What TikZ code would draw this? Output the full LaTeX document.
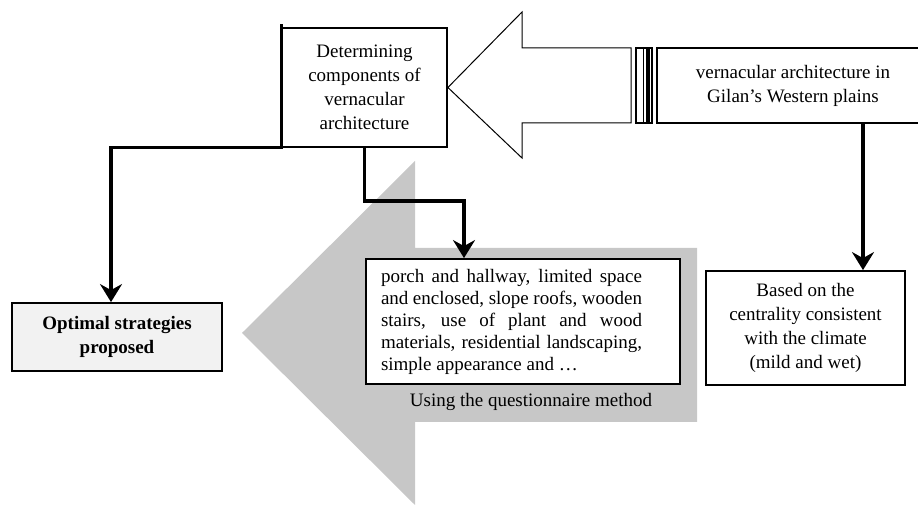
\documentclass[tikz,border=0pt]{standalone}
\usepackage{fontspec}
\setmainfont{Liberation Serif}
\usetikzlibrary{arrows.meta}

\begin{document}
\begin{tikzpicture}[x=0.5pt,y=-0.5pt,
		box/.style={draw, line width=0.9pt, inner sep=2pt, align=center, font=\fontsize{9.5}{12}\selectfont},
		conn/.style={line width=1.6pt, -{Stealth[length=9pt,width=11pt,inset=3pt]}}]
		\def\grayFill{black!22} % Colour of the big back arrow
		\def\shaftTop{48} % Top of the white arrow shaft
		\def\shaftBot{123} % Bottom of the white arrow shaft
		
		% Fix the canvas
		\useasboundingbox (0,0) rectangle (918,506);
		
		% Draw the big gray arrow behind everything
		\fill[\grayFill] (242,333) -- (415,161) -- (415,248) -- (697,248) -- (697,422) -- (415,422) -- (415,505) -- cycle;
		
		% Place the boxes
		\node[box, minimum width=82.5pt, minimum height=59.5pt] (det) at (364.5,87.5) {Determining\\components of\\vernacular\\architecture};
		\node[box, line width=0.8pt, minimum width=136pt, minimum height=37.5pt] (gilan) at (793,85.5) {vernacular architecture in\\Gilan's Western plains};
		\node[box, fill=black!5, minimum width=105pt, minimum height=34pt, font=\fontsize{9.5}{12}\selectfont\bfseries] (opt) at (117,337) {Optimal strategies\\proposed};
		\node[box, fill=white, inner xsep=7.5pt, minimum width=157pt, minimum height=62.5pt, font=\fontsize{9.5}{11}\selectfont] (porch) at (523,321.5) {\parbox{130.5pt}{porch and hallway, limited space\linebreak and enclosed, slope roofs, wooden\linebreak stairs, use of plant and wood\linebreak materials, residential landscaping,\linebreak simple appearance and \ldots}\hspace*{11.5pt}};
		\node[font=\fontsize{9.5}{12}\selectfont] (method) at (531,402) {Using the questionnaire method};
		\node[box, fill=white, minimum width=99.5pt, minimum height=57pt] (based) at (805.5,328) {Based on the\\centrality consistent\\with the climate\\(mild and wet)};
		
		% Draw the white arrow and its bars
		\draw[line width=0.5pt, fill=white] (det.east) -- (522,12) -- (522,\shaftTop) -- (631,\shaftTop) -- (631,\shaftBot) -- (522,\shaftBot) -- (522,158) -- cycle;
		\draw[line width=0.6pt] (636,\shaftTop) rectangle (652,\shaftBot);
		\draw[line width=0.5pt] (643,\shaftTop) -- (643,\shaftBot);
		\draw[line width=1.6pt] (648,\shaftTop) -- (648,\shaftBot);
		
		% Connectors
		\coordinate (bend) at (464,201);
		\coordinate (drop) at (863,123);
		\draw[conn] ([yshift=1.5pt]det.north west) -- (det.south west) -| ([xshift=-3pt]opt.north);
		\draw[conn] (det.south) |- (bend) -- (bend |- porch.north);
		\draw[conn] (drop) -- (drop |- based.north);
	\end{tikzpicture}
\end{document}
